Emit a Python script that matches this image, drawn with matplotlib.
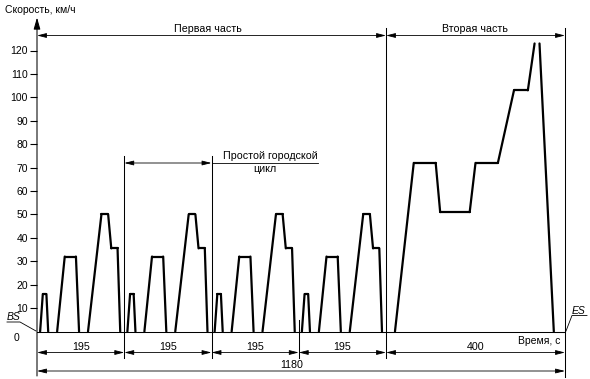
import numpy as np
import matplotlib
matplotlib.use('Agg')
import matplotlib.pyplot as plt
from matplotlib.lines import Line2D
from matplotlib.collections import LineCollection

# ---------------- data ----------------
cycle_len = 195                     # s, one urban cycle
n_cycles = 4
cycle_t = [0, 7, 13, 21, 25, 45, 62, 87, 94, 114, 144, 159, 166, 180, 186, 195]
cycle_v = [0, 0, 16, 16, 0, 0, 32, 32, 0, 0, 50, 50, 35.5, 35.5, 0, 0]

part2_len = 400
part2_t = [0, 20, 62, 111, 121, 187, 200, 250, 286, 317, 332, np.nan, 343, 375, 400]
part2_v = [0, 0, 72, 72, 51, 51, 72, 72, 103, 103, 123, np.nan, 123, 0, 0]

yticks = list(range(10, 121, 10))
dim_labels = ["195", "195", "195", "195", "400"]
total_label = "1180"

# ---------------- build series ----------------
part1_len = cycle_len * n_cycles
t_all, v_all = [], []
for i in range(n_cycles):
    t_all += [x + i * cycle_len for x in cycle_t]
    v_all += cycle_v
t_all += [x + part1_len for x in part2_t]
v_all += part2_v
t_all = np.array(t_all, float)
v_all = np.array(v_all, float)
total = part1_len + part2_len

# ---------------- figure ----------------
plt.rcParams['font.family'] = ['Liberation Sans', 'DejaVu Sans']
W, H = 590, 379
fig = plt.figure(figsize=(W / 100, H / 100), dpi=100)
X0, X1 = 37, 565
Y0, Y1 = 331.5, 50.5
ax = fig.add_axes([X0 / W, 1 - Y0 / H, (X1 - X0) / W, (Y0 - Y1) / H])
ax.set_xlim(0, total)
ax.set_ylim(0, 120)

def vy(ypx):
    return (Y0 - ypx) * 120.0 / (Y0 - Y1)
def fx(x):
    return x / W
def fy(y):
    return 1 - y / H

for s in ax.spines.values():
    s.set_visible(False)
ax.set_xticks([])
ax.set_yticks(yticks)
ax.tick_params(axis='y', direction='out', length=5, width=0.8, pad=1.5, labelsize=7.5)
ax.patch.set_alpha(0)

LW = 0.75
FS = 7.7
# axes
ax.annotate('', xy=(0, vy(17.5)), xytext=(0, vy(376)), xycoords='data',
            arrowprops=dict(arrowstyle='-|>,head_length=0.7,head_width=0.2', lw=LW,
                            color='k', shrinkA=0, shrinkB=0, mutation_scale=10),
            annotation_clip=False)
ax.plot([0, total], [0, 0], color='k', lw=LW, clip_on=False)

# trace: thick where the vehicle moves, thin along the zero line
segs, widths = [], []
for i in range(len(t_all) - 1):
    a, b = (t_all[i], v_all[i]), (t_all[i + 1], v_all[i + 1])
    if np.isnan(a[0]) or np.isnan(b[0]):
        continue
    segs.append([a, b])
    widths.append(LW if (a[1] == 0 and b[1] == 0) else 1.6)
lc = LineCollection(segs, colors='k', linewidths=widths, clip_on=False,
                    capstyle='round', joinstyle='round')
ax.add_collection(lc)

def dim(t0, t1, v):
    ax.annotate('', xy=(t1, v), xytext=(t0, v), xycoords='data',
                arrowprops=dict(arrowstyle='<|-|>,head_length=0.8,head_width=0.2', lw=0.6,
                                color='k', shrinkA=0, shrinkB=0, mutation_scale=7),
                annotation_clip=False)

def vline(t, va, vb):
    ax.plot([t, t], [va, vb], color='k', lw=LW, clip_on=False)

# vertical extension lines
vline(cycle_len, vy(156), vy(358))
vline(2 * cycle_len, vy(156), vy(358))
vline(3 * cycle_len, vy(320), vy(358))
vline(part1_len, vy(28), vy(358))
vline(total, vy(28), vy(377))

# top dimension
v_top = vy(35.5)
dim(0, part1_len, v_top)
dim(part1_len, total, v_top)
fig.text(fx(208), fy(29.5), "Первая часть", ha='center', va='center', fontsize=FS)
fig.text(fx(475), fy(29.5), "Вторая часть", ha='center', va='center', fontsize=FS)

# simple urban cycle dimension
v_u = vy(163)
dim(cycle_len, 2 * cycle_len, v_u)
t_end = (318 - X0) / (X1 - X0) * total
ax.plot([2 * cycle_len, t_end], [v_u, v_u], color='k', lw=0.6, clip_on=False)
fig.text(fx(270), fy(156), "Простой городской", ha='center', va='center', fontsize=FS)
fig.text(fx(265), fy(169), "цикл", ha='center', va='center', fontsize=FS)

# bottom dimensions
v_d1 = vy(352.5)
bounds = [i * cycle_len for i in range(n_cycles + 1)] + [total]
for i, lab in enumerate(dim_labels):
    dim(bounds[i], bounds[i + 1], v_d1)
    ax.text((bounds[i] + bounds[i + 1]) / 2, vy(347), lab, ha='center', va='center',
            fontsize=FS, clip_on=False)
v_d2 = vy(371)
dim(0, total, v_d2)
fig.text(fx(292), fy(364.5), total_label, ha='center', va='center', fontsize=FS)

# labels
fig.text(fx(5), fy(10), "Скорость, км/ч", ha='left', va='center', fontsize=7.5)
fig.text(fx(16), fy(338), "0", ha='center', va='center', fontsize=7.5)
fig.text(fx(560), fy(341), "Время, с", ha='right', va='center', fontsize=7.5)

# BS / ES markers
fig.text(fx(13.5), fy(317), "BS", ha='center', va='center', fontsize=7.5, style='italic')
fig.add_artist(Line2D([fx(7), fx(20), fx(36)], [fy(322), fy(322), fy(331)],
                      transform=fig.transFigure, color='k', lw=0.6))
fig.text(fx(579), fy(310.5), "ES", ha='center', va='center', fontsize=7.5, style='italic')
fig.add_artist(Line2D([fx(587), fx(572), fx(566)], [fy(315.5), fy(315.5), fy(331)],
                      transform=fig.transFigure, color='k', lw=0.6))

fig.savefig('out.png', dpi=100)
